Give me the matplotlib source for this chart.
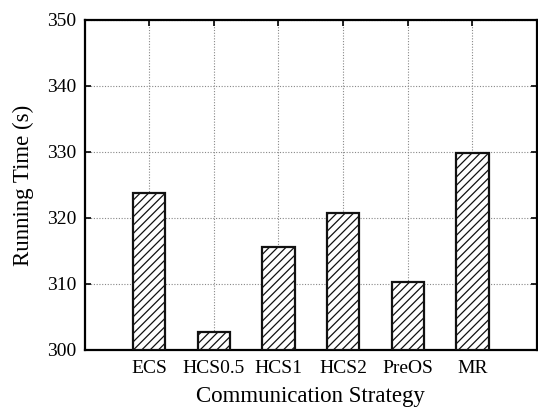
import matplotlib
matplotlib.use("Agg")
import matplotlib.pyplot as plt

categories = ["ECS", "HCS0.5", "HCS1", "HCS2", "PreOS", "MR"]
running_time = [323.8, 302.7, 315.6, 320.8, 310.3, 329.8]
yticks = [300, 310, 320, 330, 340, 350]

plt.rcParams['font.family'] = ['Liberation Serif', 'DejaVu Serif']
plt.rcParams['hatch.linewidth'] = 0.9

fig = plt.figure(figsize=(5.38, 4.08), dpi=100)
ax = fig.add_axes([84.5/538, 1 - 350/408, (537 - 84.5)/538, (350 - 20)/408])

x = list(range(1, len(categories) + 1))
ax.bar(x, [v - 300 for v in running_time], bottom=300, width=0.5,
       color='white', edgecolor='#111111', linewidth=1.6, hatch='////', zorder=3)

ax.set_xlim(0, 7)
ax.set_ylim(300, 350)
ax.set_xticks(x)
ax.set_xticklabels(categories)
ax.set_yticks(yticks)
ax.grid(True, linestyle=(0, (1, 1.5)), color='#888888', linewidth=0.8, zorder=0)
ax.tick_params(direction='in', length=4, width=1.2, top=True, right=True,
               labelsize=14, pad=7)
ax.tick_params(axis='y', pad=6)
for s in ax.spines.values():
    s.set_linewidth(1.6)
ax.set_xlabel("Communication Strategy", fontsize=16.5, labelpad=6.5)
ax.set_ylabel("Running Time (s)", fontsize=16.5, labelpad=9)

fig.savefig("out.png", dpi=100)
